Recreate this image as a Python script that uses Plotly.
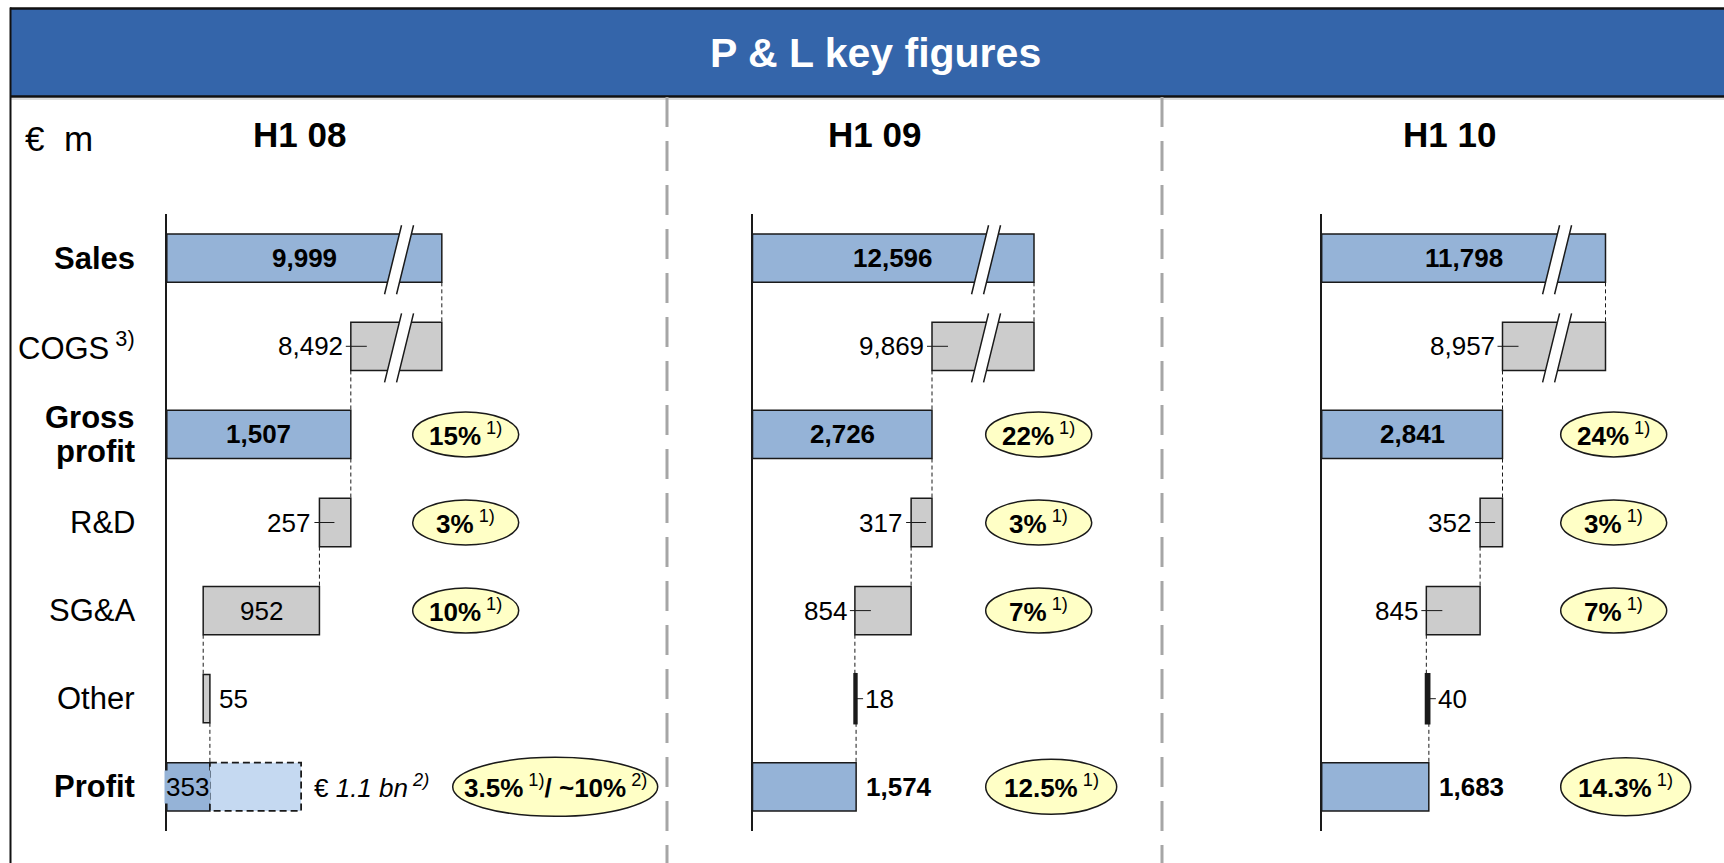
import plotly.graph_objects as go

# ---------------- data ----------------
periods = ["H1 08", "H1 09", "H1 10"]
categories = ["Sales", "COGS", "Gross profit", "R&D", "SG&A", "Other", "Profit"]
sales = [9999, 12596, 11798]
cogs = [8492, 9869, 8957]
gross_profit = [1507, 2726, 2841]
rnd = [257, 317, 352]
sga = [952, 854, 845]
other = [55, 18, 40]
profit = [353, 1574, 1683]
gross_margin = ["15%", "22%", "24%"]
rnd_ratio = ["3%", "3%", "3%"]
sga_ratio = ["10%", "7%", "7%"]
profit_margin = ["3.5%", "12.5%", "14.3%"]
adjusted_profit = [1100, None, None]          # € 1.1 bn (H1 08, footnote 2)
adjusted_label = ["1.1 bn", None, None]
adjusted_margin = ["~10%", None, None]

# ---------------- layout constants ----------------
W, H = 1724, 863
FONT = "Liberation Sans, Arial, sans-serif"
BLUE = "#95b3d7"
LIGHT_BLUE = "#c5d9f1"
GREY = "#cccccc"
EDGE = "#1a1a1a"
HEADER_BLUE = "#3465aa"
ELL_FILL = "#ffffc6"

AXIS_PX = [166.8, 752.5, 1321.7]      # left edge (value 0) of each panel
PANEL_W_PX = 380
X_MAX = [3112, 5771, 5971]             # per-panel axis range
BREAK_PX = [91, 102, 103]              # visual length of the broken COGS part
ROW0_PX, ROW_STEP_PX = 258.2, 88.1
BAR_W = 0.548
HEAD_X_PX = [299, 874, 1449]
ELL_LEFT_PX = [412.7, 985.7, 1560.7]
PROFIT_ELL_LEFT_PX = [452.7, 985.7, 1560.7]
ELL_W, ELL_H = 106, 45
PROFIT_ELL_W = [205, 131, 130]
PROFIT_ELL_H = [59, 55, 58]
LABEL_RIGHT_PX = 137
SEP_X_PX = [667, 1162]

VAL_FS, LBL_FS, HEAD_FS, TITLE_FS = 26, 31, 35, 41


def px(xp):
    return xp / W


def py(yp):
    return 1 - yp / H


y_top = ROW0_PX - 0.5 * ROW_STEP_PX
y_bot = ROW0_PX + 6.5 * ROW_STEP_PX
y_domain = [py(y_bot), py(y_top)]

fig = go.Figure()
shapes = []
annotations = []

half = BAR_W / 2

for i in range(3):
    xa = "x" if i == 0 else f"x{i+1}"
    ya = "y" if i == 0 else f"y{i+1}"
    scale = PANEL_W_PX / X_MAX[i]          # px per unit
    brk = BREAK_PX[i] / scale                # data units of the broken part
    g = gross_profit[i]
    rd_left = g - rnd[i]
    sga_left = rd_left - sga[i]
    sales_disp = g + brk

    bases = [0, g, 0, rd_left, sga_left, sga_left, 0]
    lengths = [sales_disp, brk, g, rnd[i], sga[i], other[i], profit[i]]
    colors = [BLUE, GREY, BLUE, GREY, GREY, GREY, BLUE]
    lw = [1.5] * 7
    if other[i] * scale < 4:
        lw[5] = 3.2

    fig.add_trace(go.Bar(
        orientation="h", y=list(range(7)), x=lengths, base=bases,
        width=BAR_W, marker=dict(color=colors, line=dict(color=EDGE, width=lw)),
        xaxis=xa, yaxis=ya, hoverinfo="skip", showlegend=False,
    ))

    # adjusted (dashed) profit bar for H1 08
    if adjusted_profit[i] is not None:
        shapes.append(dict(type="rect", xref=xa, yref=ya, x0=profit[i], x1=adjusted_profit[i],
                           y0=6 - half, y1=6 + half, fillcolor=LIGHT_BLUE,
                           line=dict(color=EDGE, width=1.8, dash="7px,4px"), layer="above"))

    # dashed connectors
    conns = [(0, sales_disp), (1, g), (2, g), (3, rd_left), (4, sga_left), (5, sga_left + other[i])]
    for r, xv in conns:
        shapes.append(dict(type="line", xref=xa, yref=ya, x0=xv, x1=xv, y0=r + half, y1=r + 1 - half,
                           line=dict(color=EDGE, width=1, dash="4px,3px"), layer="above"))

    # axis break marks on Sales and COGS
    c = -0.47 * BREAK_PX[i]
    for r in (0, 1):
        yt, yb = r - half - 0.10, r + half + 0.135
        a1, a2 = c - 6 + 8.5, c + 6 + 8.5
        b1, b2 = c - 6 - 8.5, c + 6 - 8.5
        shapes.append(dict(type="path", xref=xa, yref=ya, xsizemode="pixel", xanchor=sales_disp,
                           path=f"M{a1},{yt} L{a2},{yt} L{b2},{yb} L{b1},{yb} Z",
                           fillcolor="white", line=dict(width=0), layer="above"))
        shapes.append(dict(type="path", xref=xa, yref=ya, xsizemode="pixel", xanchor=sales_disp,
                           path=f"M{a1},{yt} L{b1},{yb} M{a2},{yt} L{b2},{yb}",
                           line=dict(color=EDGE, width=1.5), layer="above"))

    def ann(text, x, y, **kw):
        d = dict(text=text, x=x, y=y, xref=xa, yref=ya, showarrow=False,
                 xanchor="center", yanchor="middle",
                 font=dict(family=FONT, size=VAL_FS, color="black"))
        d.update(kw)
        annotations.append(d)

    def leader(xv, r, a, b):
        shapes.append(dict(type="line", xref=xa, yref=ya, xsizemode="pixel", xanchor=xv,
                           x0=a, x1=b, y0=r, y1=r, line=dict(color=EDGE, width=1), layer="above"))

    # value labels
    ann(f"<b>{sales[i]:,}</b>", sales_disp / 2, 0)
    ann(f"{cogs[i]:,}", g, 1, xanchor="right", xshift=-6)
    leader(g, 1, -5, 16)
    ann(f"<b>{g:,}</b>", g / 2, 2)
    ann(f"{rnd[i]:,}", rd_left, 3, xanchor="right", xshift=-7)
    leader(rd_left, 3, -5, 15)
    if sga[i] * scale > 80:
        ann(f"{sga[i]:,}", sga_left + sga[i] / 2, 4)
    else:
        ann(f"{sga[i]:,}", sga_left, 4, xanchor="right", xshift=-6)
        leader(sga_left, 4, -5, 16)
    oend = sga_left + other[i]
    ann(f"{other[i]:,}", oend, 5, xanchor="left", xshift=7)
    if other[i] * scale < 4:
        leader(oend, 5, 0, 7)
    if adjusted_profit[i] is not None:
        ann(f"{profit[i]:,}", 0, 6, xanchor="left", xshift=-3, bgcolor=BLUE, borderpad=1)
        ann(f"€ <i>{adjusted_label[i]}</i><sup><i> 2)</i></sup>", adjusted_profit[i], 6,
            xanchor="left", xshift=11)
    else:
        ann(f"<b>{profit[i]:,}</b>", profit[i], 6, xanchor="left", xshift=8)

    # ellipses with ratios
    ell = [(2, f"<b>{gross_margin[i]}</b><sup> 1)</sup>", ELL_LEFT_PX[i], ELL_W, ELL_H),
           (3, f"<b>{rnd_ratio[i]}</b><sup> 1)</sup>", ELL_LEFT_PX[i], ELL_W, ELL_H),
           (4, f"<b>{sga_ratio[i]}</b><sup> 1)</sup>", ELL_LEFT_PX[i], ELL_W, ELL_H)]
    if adjusted_margin[i] is not None:
        ptxt = f"<b>{profit_margin[i]}</b><sup> 1)</sup><b>/ {adjusted_margin[i]}</b><sup> 2)</sup>"
    else:
        ptxt = f"<b>{profit_margin[i]}</b><sup> 1)</sup>"
    ell.append((6, ptxt, PROFIT_ELL_LEFT_PX[i], PROFIT_ELL_W[i], PROFIT_ELL_H[i]))
    for r, txt, x0, ew, eh in ell:
        shapes.append(dict(type="circle", xref="paper", yref=ya, ysizemode="pixel", yanchor=r,
                           x0=px(x0), x1=px(x0 + ew), y0=-eh / 2, y1=eh / 2,
                           fillcolor=ELL_FILL, line=dict(color=EDGE, width=1.5), layer="above"))
        annotations.append(dict(text=txt, x=px(x0 + ew / 2), y=r, xref="paper", yref=ya,
                                xanchor="center", yanchor="middle",
                                showarrow=False, font=dict(family=FONT, size=VAL_FS, color="black")))

    # panel header
    annotations.append(dict(text=f"<b>{periods[i]}</b>", x=px(HEAD_X_PX[i]), y=py(134),
                            xref="paper", yref="paper", showarrow=False,
                            xanchor="center", yanchor="middle",
                            font=dict(family=FONT, size=HEAD_FS, color="black")))

    # axes
    fig.update_layout(**{
        ("xaxis" if i == 0 else f"xaxis{i+1}"): dict(
            domain=[px(AXIS_PX[i]), px(AXIS_PX[i] + PANEL_W_PX)], range=[0, X_MAX[i]],
            visible=False, anchor=ya, fixedrange=True),
        ("yaxis" if i == 0 else f"yaxis{i+1}"): dict(
            domain=y_domain, range=[6.5, -0.5], anchor=xa, showline=True, linecolor=EDGE,
            linewidth=1.5, showticklabels=False, showgrid=False, zeroline=False, ticks="",
            fixedrange=True),
    })

# row labels
for r, cat in enumerate(categories):
    bold = cat in ("Sales", "Gross profit", "Profit")
    if cat == "Gross profit":
        parts = cat.split(" ")
        for k, p in enumerate(parts):
            annotations.append(dict(text=f"<b>{p}</b>", x=px(LABEL_RIGHT_PX), y=r + (k - 0.5) * 0.38,
                                    xref="paper", yref="y", xanchor="right", yanchor="middle",
                                    showarrow=False,
                                    font=dict(family=FONT, size=LBL_FS, color="black")))
        continue
    txt = f"<b>{cat}</b>" if bold else cat
    if cat == "COGS":
        txt = "COGS<sup> 3)</sup>"
    annotations.append(dict(text=txt, x=px(LABEL_RIGHT_PX), y=r, xref="paper", yref="y",
                            xanchor="right", yanchor="middle", showarrow=False,
                            font=dict(family=FONT, size=LBL_FS, color="black")))

# unit label and title
annotations.append(dict(text="€  m", x=px(23), y=py(138), xref="paper", yref="paper",
                        xanchor="left", yanchor="middle", showarrow=False,
                        font=dict(family=FONT, size=HEAD_FS, color="black")))
annotations.append(dict(text="<b>P & L key figures</b>", x=px(875), y=py(53), xref="paper",
                        yref="paper", xanchor="center", yanchor="middle", showarrow=False,
                        font=dict(family=FONT, size=TITLE_FS, color="white")))

# frame, header, separators
shapes += [
    dict(type="rect", xref="paper", yref="paper", x0=px(11), x1=1, y0=py(97), y1=py(8),
         fillcolor=HEADER_BLUE, line=dict(width=0), layer="below"),
    dict(type="line", xref="paper", yref="paper", x0=px(10), x1=1, y0=py(8.5), y1=py(8.5),
         line=dict(color="#111111", width=2.5)),
    dict(type="line", xref="paper", yref="paper", x0=px(10), x1=1, y0=py(96.5), y1=py(96.5),
         line=dict(color="#111111", width=2.5)),
    dict(type="line", xref="paper", yref="paper", x0=px(10), x1=1, y0=py(99), y1=py(99),
         line=dict(color="#d0d0d0", width=1.5)),
    dict(type="line", xref="paper", yref="paper", x0=px(10.5), x1=px(10.5), y0=py(7.5), y1=0,
         line=dict(color="#111111", width=2)),
]
for sx in SEP_X_PX:
    shapes.append(dict(type="line", xref="paper", yref="paper", x0=px(sx), x1=px(sx),
                       y0=py(97), y1=0, line=dict(color="#a6a6a6", width=3, dash="30px,14px")))

fig.update_layout(
    width=W, height=H, margin=dict(l=0, r=0, t=0, b=0),
    paper_bgcolor="white", plot_bgcolor="white", showlegend=False, barmode="overlay",
    shapes=shapes, annotations=annotations,
)

fig.write_html("out.html", config={"displayModeBar": False},
               post_script="document.body.style.margin='0';document.body.style.overflow='hidden';")
